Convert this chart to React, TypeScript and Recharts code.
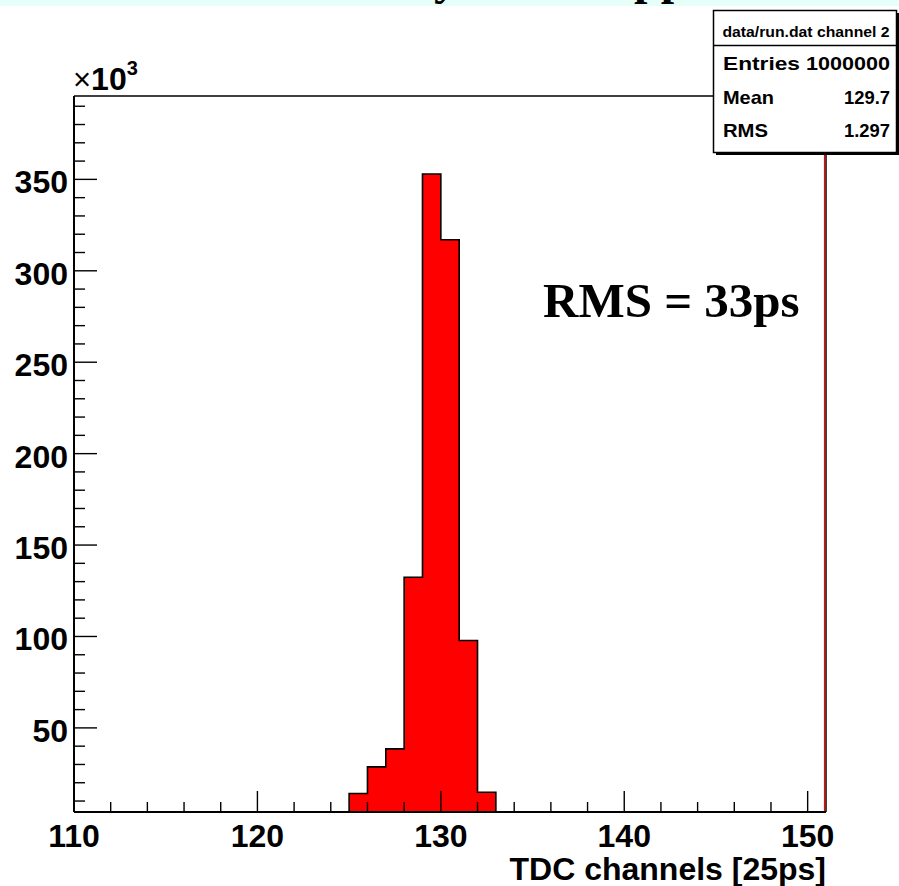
import React from 'react';
import { ComposedChart, Area, XAxis, YAxis, ReferenceLine } from 'recharts';

// ---- data (counts in thousands) ----
const binLowEdges = [125, 126, 127, 128, 129, 130, 131, 132];
const binCounts = [14.1, 28.7, 38.5, 132.4, 352.9, 317.0, 97.8, 14.8];
const binWidth = 1;
const xMajorTicks = [110, 120, 130, 140, 150];
const yMajorTicks = [50, 100, 150, 200, 250, 300, 350];
const xDomain = [110, 151];
const yDomain = [4, 395.6];
const xTitle = 'TDC channels [25ps]';
const annotation = 'RMS = 33ps';
const statsTitle = 'data/run.dat channel 2';
const statsLabels = ['Entries', 'Mean', 'RMS'];
const statsValues = ['1000000', '129.7', '1.297'];

const histData = [
  { x: binLowEdges[0], y: 0 },
  ...binLowEdges.map((e, i) => ({ x: e, y: binCounts[i] })),
  { x: binLowEdges[binLowEdges.length - 1] + binWidth, y: 0 },
];

const xTicks: number[] = [];
for (let v = xDomain[0]; v <= 150; v += 2) xTicks.push(v);
const yTicks: number[] = [];
for (let v = 10; v <= 390; v += 10) yTicks.push(v);

const SANS = '"Liberation Sans", Arial, Helvetica, sans-serif';
const SERIF = '"Liberation Serif", "Times New Roman", serif';

const XTick = (props: any) => {
  const { x, y, payload } = props;
  const v = payload.value;
  const major = xMajorTicks.includes(v);
  return (
    <g>
      <line x1={x} x2={x} y1={y} y2={y - (major ? 21 : 10)} stroke="#000" strokeWidth={1.4} />
      {major && (
        <text x={x} y={y + 35} textAnchor="middle" fontFamily={SANS} fontWeight="bold" fontSize={32} fill="#000">
          {v}
        </text>
      )}
    </g>
  );
};

const YTick = (props: any) => {
  const { x, y, payload } = props;
  const v = payload.value;
  const major = yMajorTicks.includes(v);
  return (
    <g>
      <line x1={x} x2={x + (major ? 23 : 11)} y1={y} y2={y} stroke="#000" strokeWidth={1.4} />
      {major && (
        <text x={x - 6} y={y + 14} textAnchor="end" fontFamily={SANS} fontWeight="bold" fontSize={32} fill="#000">
          {v}
        </text>
      )}
    </g>
  );
};

const RedEdge = (p: any) => (
  <line x1={p.x1 - 1.5} x2={p.x2 - 1.5} y1={p.y1} y2={p.y2} stroke="#ff0000" strokeWidth={1.2} />
);

export default function App() {
  const rowBase = [70, 104, 137];
  const labelLen = [77, 51, 45];
  const valueLen = [84, 46, 46];
  return (
    <div style={{ position: 'absolute', left: 0, top: 0, width: 899, height: 886, background: '#fff' }}>
      <ComposedChart
        width={899}
        height={886}
        data={histData}
        margin={{ top: 96, right: 73, bottom: 0, left: 0 }}
      >
        <XAxis
          dataKey="x"
          type="number"
          domain={xDomain}
          allowDataOverflow
          ticks={xTicks}
          interval={0}
          height={74}
          tickSize={0}
          tickMargin={0}
          tickLine={false}
          axisLine={{ stroke: '#000', strokeWidth: 2 }}
          tick={(p: any) => <XTick {...p} />}
        />
        <YAxis
          type="number"
          domain={yDomain}
          allowDataOverflow
          ticks={yTicks}
          interval={0}
          width={74}
          tickSize={0}
          tickMargin={0}
          tickLine={false}
          axisLine={{ stroke: '#000', strokeWidth: 2 }}
          tick={(p: any) => <YTick {...p} />}
        />
        <Area
          type="stepAfter"
          dataKey="y"
          fill="#ff0000"
          fillOpacity={1}
          stroke="#000"
          strokeWidth={1.6}
          isAnimationActive={false}
          dot={false}
          activeDot={false}
        />
        <ReferenceLine y={yDomain[0]} stroke="#ff0000" strokeWidth={1} ifOverflow="visible" />
        <ReferenceLine y={yDomain[1]} stroke="#000" strokeWidth={1.5} ifOverflow="visible" />
        <ReferenceLine x={xDomain[1]} stroke="#000" strokeWidth={1.5} ifOverflow="visible" />
        <ReferenceLine x={xDomain[1]} ifOverflow="visible" shape={RedEdge} />
      </ComposedChart>
      <svg
        width={899}
        height={886}
        style={{ position: 'absolute', left: 0, top: 0, pointerEvents: 'none' }}
      >
        <rect x={0} y={0} width={899} height={6} fill="#e6fff9" />
        <text x={434} y={-6} fontFamily={SERIF} fontWeight="bold" fontSize={48} fill="#000">y</text>
        <text x={634} y={-6} fontFamily={SERIF} fontWeight="bold" fontSize={48} fill="#000">pp</text>

        <text x={73} y={90} fontFamily={SANS} fill="#000">
          <tspan fontSize={31}>×</tspan>
          <tspan fontSize={32} fontWeight="bold">10</tspan>
          <tspan fontSize={20} fontWeight="bold" dy={-15}>3</tspan>
        </text>

        <text x={826} y={880} textAnchor="end" fontFamily={SANS} fontWeight="bold" fontSize={32} fill="#000">
          {xTitle}
        </text>

        <text x={543} y={317} fontFamily={SERIF} fontWeight="bold" fontSize={49} fill="#000">
          {annotation}
        </text>

        {/* stats box */}
        <rect x={716} y={13} width={183} height={142} fill="#000" />
        <rect x={713.5} y={10.5} width={183} height={142} fill="#fff" stroke="#000" strokeWidth={1.5} />
        <line x1={713.5} x2={896.5} y1={45.5} y2={45.5} stroke="#000" strokeWidth={1.5} />
        <text x={806} y={37} textAnchor="middle" fontFamily={SANS} fontWeight="bold" fontSize={14}
          textLength={167} lengthAdjust="spacingAndGlyphs" fill="#000">
          {statsTitle}
        </text>
        {statsLabels.map((lab, i) => (
          <g key={lab}>
            <text x={723} y={rowBase[i]} fontFamily={SANS} fontWeight="bold" fontSize={19}
              textLength={labelLen[i]} lengthAdjust="spacingAndGlyphs" fill="#000">
              {lab}
            </text>
            <text x={890 - valueLen[i]} y={rowBase[i]} fontFamily={SANS} fontWeight="bold" fontSize={19}
              textLength={valueLen[i]} lengthAdjust="spacingAndGlyphs" fill="#000">
              {statsValues[i]}
            </text>
          </g>
        ))}
      </svg>
    </div>
  );
}
